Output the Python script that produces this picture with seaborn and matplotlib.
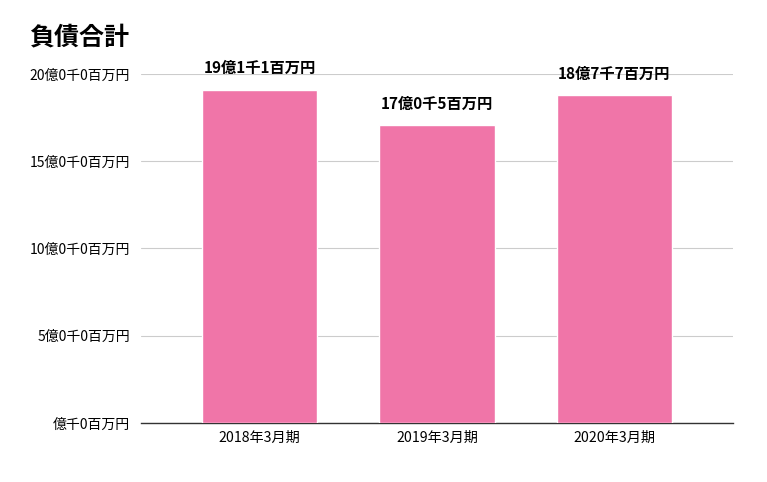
import pandas as pd
import seaborn as sns
import matplotlib.pyplot as plt

periods = ['2018年3月期', '2019年3月期', '2020年3月期']
values = [1911, 1705, 1877]  # 百万円
bar_labels = ['19億1千1百万円', '17億0千5百万円', '18億7千7百万円']
yticks = [0, 500, 1000, 1500, 2000]
ytick_labels = ['億千0百万円', '5億0千0百万円', '10億0千0百万円', '15億0千0百万円', '20億0千0百万円']

sns.set_style('white')
plt.rcParams['font.family'] = ['Noto Sans CJK JP', 'DejaVu Sans']
plt.rcParams['text.color'] = 'black'
plt.rcParams['xtick.color'] = 'black'
plt.rcParams['ytick.color'] = 'black'

df = pd.DataFrame({'period': periods, 'value': values})

fig = plt.figure(figsize=(7.67, 4.82), dpi=100)
ax = fig.add_axes([0.1838, 0.1224, 0.7719, 0.7241])

sns.barplot(df, x='period', y='value', color='#f075a8', width=0.65, saturation=1, ax=ax, zorder=3)

for i, (v, lab) in enumerate(zip(values, bar_labels)):
    ax.annotate(lab, (i, v), xytext=(0, 10), textcoords='offset points',
                ha='center', va='bottom', fontsize=11, fontweight='bold')

ax.set_ylim(0, 2000)
ax.set_xlim(-0.67, 2.67)
ax.set_yticks(yticks)
ax.set_yticklabels(ytick_labels, fontsize=10)
ax.tick_params(axis='x', labelsize=10.2, length=0, pad=6)
ax.tick_params(axis='y', length=0, pad=8)
ax.grid(axis='y', color='#cccccc', linewidth=0.8, zorder=0)
ax.set_xlabel('')
ax.set_ylabel('')
for s in ['top', 'right', 'left']:
    ax.spines[s].set_visible(False)
ax.spines['bottom'].set_color('#333333')
ax.spines['bottom'].set_linewidth(1)

fig.text(29 / 767, 1 - 37 / 482, '負債合計', fontsize=18, fontweight='bold', va='center', ha='left')

fig.savefig('out.png', dpi=100)
